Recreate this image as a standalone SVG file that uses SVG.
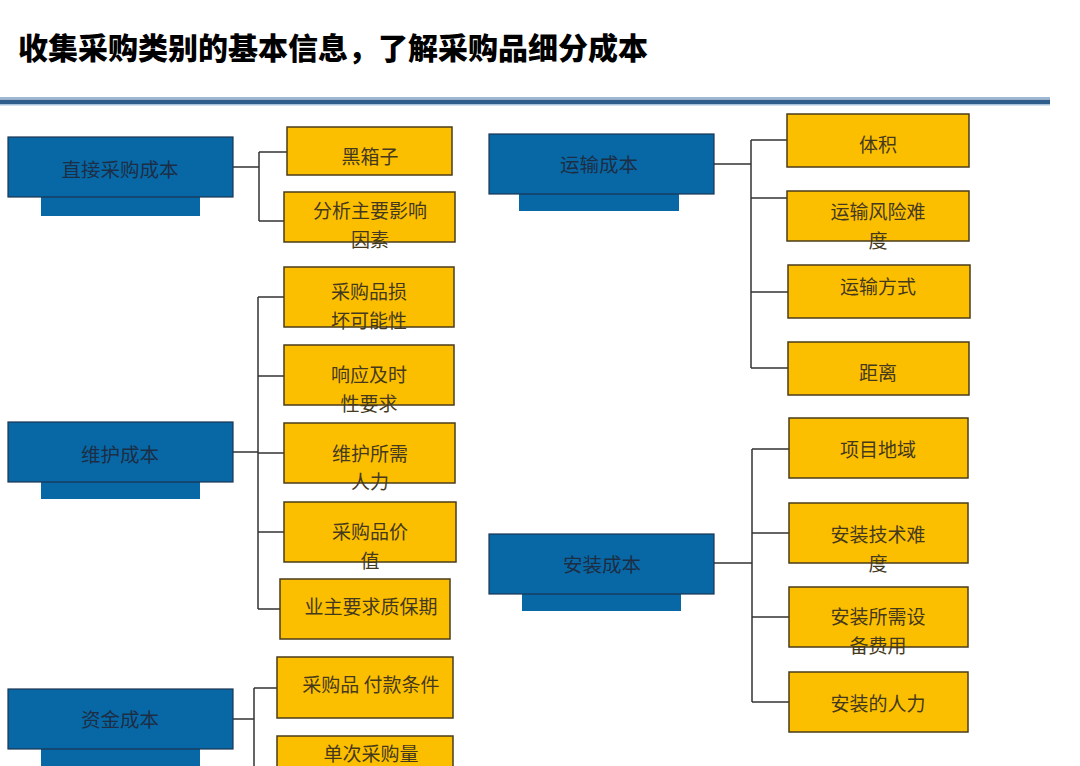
<svg xmlns="http://www.w3.org/2000/svg" width="1080" height="766" viewBox="0 0 1080 766">
<style>
.title{font-family:"Noto Sans CJK SC","Liberation Sans",sans-serif;font-weight:900;font-size:30px;fill:#000}
.blue{fill:#0868a6;stroke:#1b3552;stroke-width:1.2}
.tab{fill:#0868a6}
.yel{fill:#fcbf00;stroke:#4a3c1a;stroke-width:1.5}
.bt{font-family:"Noto Sans CJK SC",sans-serif;font-size:19.5px;fill:#1c2e45;text-anchor:middle;dominant-baseline:central}
.yt{font-family:"Noto Sans CJK SC",sans-serif;font-size:19px;fill:#45391d;text-anchor:middle;dominant-baseline:central}
.con{fill:none;stroke:#333;stroke-width:1.5}
</style>
<rect width="1080" height="766" fill="#fff"/>
<text class="title" x="18" y="59">收集采购类别的基本信息，了解采购品细分成本</text>
<rect x="0" y="97" width="1050" height="2" fill="#9db8d4"/>
<rect x="0" y="99.5" width="1050" height="4.5" fill="#2e5d8c"/>
<rect x="0" y="104" width="1050" height="1.5" fill="#a9c2dc"/>

<g id="connectors">
<path class="con" d="M233 167H259M259 152V221M259 152H287M259 221H284"/>
<path class="con" d="M233 452H258M258 297V609M258 297H284M258 376H284M258 453H284M258 532H284M258 609H280"/>
<path class="con" d="M233 719H254M254 688V766M254 688H277"/>
<path class="con" d="M714 164H751M751 140V368M751 140H787M751 198H787M751 292H788M751 368H788"/>
<path class="con" d="M714 563H752M752 449V702M752 449H789M752 533H789M752 617H789M752 702H789"/>
</g>

<g id="n-direct"><rect class="tab" x="41" y="196" width="159" height="20"/><rect class="blue" x="8" y="137" width="225" height="60"/><text class="bt" x="120" y="168">直接采购成本</text></g>
<g id="n-maint"><rect class="tab" x="41" y="481" width="159" height="18"/><rect class="blue" x="8" y="422" width="225" height="60"/><text class="bt" x="120" y="453">维护成本</text></g>
<g id="n-fund"><rect class="tab" x="41" y="748" width="159" height="20"/><rect class="blue" x="8" y="689" width="225" height="60"/><text class="bt" x="120" y="718">资金成本</text></g>
<g id="n-trans"><rect class="tab" x="519" y="193" width="160" height="18"/><rect class="blue" x="489" y="134" width="225" height="60"/><text class="bt" x="599" y="163">运输成本</text></g>
<g id="n-inst"><rect class="tab" x="522" y="593" width="159" height="18"/><rect class="blue" x="489" y="534" width="225" height="60"/><text class="bt" x="602" y="563">安装成本</text></g>

<g id="y-heixiang"><rect class="yel" x="287" y="127" width="165" height="48"/><text class="yt" x="370" y="155">黑箱子</text></g>
<g id="y-fenxi"><rect class="yel" x="284" y="192" width="171" height="50"/><text class="yt" x="370" y="209.5">分析主要影响<tspan x="370" dy="28">因素</tspan></text></g>
<g id="y-sunhuai"><rect class="yel" x="284" y="267" width="170" height="60"/><text class="yt" x="369" y="290.5">采购品损<tspan x="369" dy="28">坏可能性</tspan></text></g>
<g id="y-xiangying"><rect class="yel" x="284" y="345" width="170" height="60"/><text class="yt" x="369" y="373.5">响应及时<tspan x="369" dy="28">性要求</tspan></text></g>
<g id="y-renli"><rect class="yel" x="284" y="423" width="171" height="60"/><text class="yt" x="370" y="452">维护所需<tspan x="370" dy="28">人力</tspan></text></g>
<g id="y-jiazhi"><rect class="yel" x="284" y="502" width="172" height="60"/><text class="yt" x="370" y="530.5">采购品价<tspan x="370" dy="28">值</tspan></text></g>
<g id="y-zhibao"><rect class="yel" x="280" y="579" width="170" height="60"/><text class="yt" x="371" y="605">业主要求质保期</text></g>
<g id="y-fukuan"><rect class="yel" x="277" y="657" width="176" height="61"/><text class="yt" x="371" y="683">采购品 付款条件</text></g>
<g id="y-danci"><rect class="yel" x="277" y="736" width="176" height="40"/><text class="yt" x="371" y="752">单次采购量</text></g>

<g id="y-tiji"><rect class="yel" x="787" y="114" width="182" height="53"/><text class="yt" x="878" y="143">体积</text></g>
<g id="y-fengxian"><rect class="yel" x="787" y="191" width="182" height="50"/><text class="yt" x="878" y="210.5">运输风险难<tspan x="878" dy="28">度</tspan></text></g>
<g id="y-fangshi"><rect class="yel" x="788" y="265" width="182" height="53"/><text class="yt" x="878" y="285">运输方式</text></g>
<g id="y-juli"><rect class="yel" x="788" y="342" width="181" height="53"/><text class="yt" x="878" y="371">距离</text></g>
<g id="y-diyu"><rect class="yel" x="789" y="418" width="179" height="60"/><text class="yt" x="878" y="448">项目地域</text></g>
<g id="y-jishu"><rect class="yel" x="789" y="503" width="179" height="60"/><text class="yt" x="878" y="533.5">安装技术难<tspan x="878" dy="28">度</tspan></text></g>
<g id="y-shebei"><rect class="yel" x="789" y="587" width="179" height="60"/><text class="yt" x="878" y="615.5">安装所需设<tspan x="878" dy="28">备费用</tspan></text></g>
<g id="y-anzhuangrenli"><rect class="yel" x="789" y="672" width="179" height="60"/><text class="yt" x="878" y="702">安装的人力</text></g>
</svg>
